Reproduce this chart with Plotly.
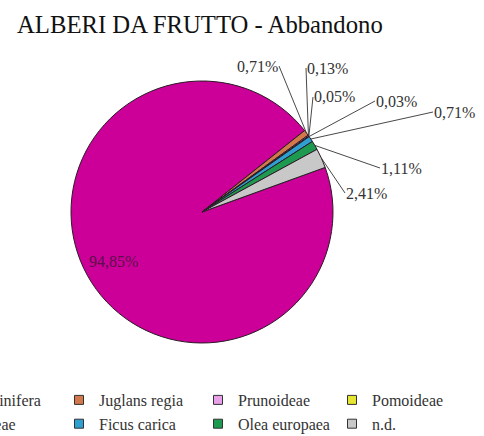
import math
import plotly.graph_objects as go

# Share of abandoned fruit trees by taxon (percent)
categories = ["Vitis vinifera", "Juglans regia", "Prunoideae", "Pomoideae",
              "Rutaceae", "Ficus carica", "Olea europaea", "n.d."]
shares = [94.85, 0.71, 0.13, 0.05, 0.03, 0.71, 1.11, 2.41]
colors = ["#CC0099", "#D2784A", "#E8A0E8", "#E6E632",
          "#7F7FCC", "#2E9FD0", "#1E9A50", "#C8C8C8"]

W, H = 484, 436
START_ANGLE = 70.1          # first slice starts here (deg, clockwise from 12 o'clock)
CX, CY, R = 202, 212, 131   # pie centre and radius in pixels

# Where each outside label's leader line ends (pixels) and how the text hangs off it
label_tails = [None, (279, 66, "right"), (306, 68, "left"), (313, 97, "left"),
               (375, 101, "left"), (433, 112, "left"), (380, 168, "left"),
               (345, 193, "left")]
INSIDE_FRAC = 0.77

# Legend laid out as a 4-column grid: left edge of each column (px) and top (px)
LEGEND_COLS_X = [-83, 59, 198, 332]
LEGEND_TOP = 383
SERIF = "Liberation Serif"


def fmt(v):
    return f"{v:.2f}".replace(".", ",") + "%"


fig = go.Figure(go.Pie(
    labels=categories,
    values=shares,
    marker=dict(colors=colors, line=dict(color="#2a1a25", width=1)),
    sort=False,
    direction="clockwise",
    rotation=START_ANGLE,
    textinfo="none",
    hoverinfo="label+percent",
    showlegend=False,
    domain=dict(x=[(CX - R) / W, (CX + R) / W],
                y=[1 - (CY + R) / H, 1 - (CY - R) / H]),
))

# Legend keys: one entry per taxon, split over four column legends
legend_names = ["legend", "legend2", "legend3", "legend4"]
for i, (cat, col) in enumerate(zip(categories, colors)):
    fig.add_trace(go.Scatter(
        x=[None], y=[None], mode="markers", name=cat,
        marker=dict(symbol="square", size=9, color=col,
                    line=dict(color="#333333", width=1)),
        legend=legend_names[i % 4], hoverinfo="skip",
    ))

total = sum(shares)
annotations = []
acc = 0.0
for i, v in enumerate(shares):
    mid = math.radians(START_ANGLE + 360 * (acc + v / 2) / total)
    acc += v
    if label_tails[i] is None:
        px = CX + INSIDE_FRAC * R * math.sin(mid)
        py = CY - INSIDE_FRAC * R * math.cos(mid)
        annotations.append(dict(
            x=px / W, y=1 - py / H, xref="paper", yref="paper",
            xanchor="center", yanchor="middle",
            text=fmt(v), showarrow=False,
            font=dict(family=SERIF, size=16, color="#5a1048"),
        ))
        continue
    hx = CX + R * math.sin(mid)
    hy = CY - R * math.cos(mid)
    tx, ty, anchor = label_tails[i]
    annotations.append(dict(
        x=hx / W, y=1 - hy / H, xref="paper", yref="paper",
        ax=tx - hx, ay=ty - hy, axref="pixel", ayref="pixel",
        text=fmt(v), showarrow=True, arrowhead=0, arrowwidth=0.9,
        arrowcolor="#333333", standoff=0, startstandoff=0,
        xanchor=anchor, yanchor="middle", borderpad=0,
        font=dict(family=SERIF, size=16, color="#333333"),
    ))

legend_style = dict(orientation="v", xanchor="left", yanchor="top",
                    y=1 - LEGEND_TOP / H, tracegroupgap=0,
                    font=dict(family=SERIF, size=16, color="#333333"),
                    bgcolor="rgba(0,0,0,0)", borderwidth=0)
legends = {name: dict(legend_style, x=cx / W)
           for name, cx in zip(legend_names, LEGEND_COLS_X)}

fig.update_layout(
    width=W, height=H,
    margin=dict(l=0, r=0, t=0, b=0, autoexpand=False),
    paper_bgcolor="white",
    plot_bgcolor="white",
    xaxis=dict(visible=False),
    yaxis=dict(visible=False),
    title=dict(text="ALBERI DA FRUTTO - Abbandono",
               x=17 / W, xanchor="left", xref="container",
               y=1 - 24 / H, yanchor="middle", yref="container",
               font=dict(family=SERIF, size=24.7, color="#111111")),
    annotations=annotations,
    showlegend=True,
    **legends,
)

fig.write_html("out.html")
